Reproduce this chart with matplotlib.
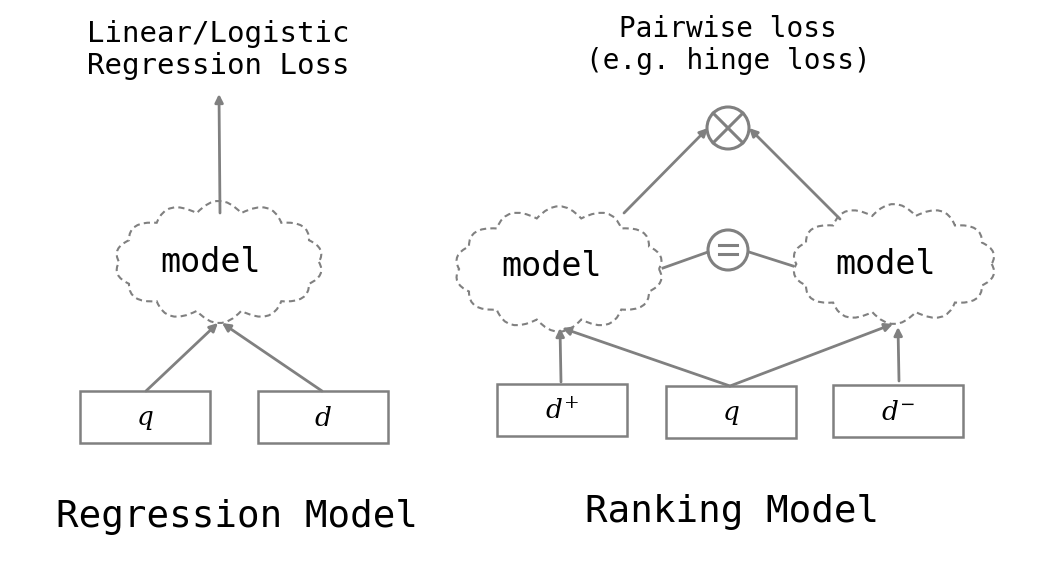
import numpy as np
import matplotlib.pyplot as plt
from matplotlib.path import Path
from matplotlib.patches import PathPatch, Rectangle, Circle

plt.rcParams["mathtext.fontset"] = "dejavuserif"
GRAY = "#808080"
MONO = "DejaVu Sans Mono"

# nodes
clouds = [("model", 219, 262, 222, 118), ("model", 559, 269, 222, 122), ("model", 894, 264, 217, 116)]
model_text = [(211, 262), (552, 267), (886, 264)]
boxes = [(r"$q$", 80, 391), (r"$d$", 258, 391), (r"$d^{+}$", 497, 384), (r"$q$", 666, 386), (r"$d^{-}$", 833, 385)]
BOX_W, BOX_H = 130, 52
arrows = [((146, 391), (218, 323)), ((322, 391), (222, 323)), ((220, 213), (219, 94)),
          ((561, 382), (560, 328)), ((730, 386), (562, 328)), ((730, 386), (893, 324)),
          ((899, 381), (898, 327)), ((624, 213), (708, 128)), ((840, 219), (749, 128))]
lines = [((663, 268), (708, 252)), ((749, 252), (793, 266))]


def cloud_path(cx, cy, w, h, n=14):
    t = np.linspace(0, 2 * np.pi, n + 1)
    pts = np.c_[cx + w / 2 * 0.9 * np.cos(t), cy + h / 2 * 0.85 * np.sin(t)]
    verts, codes = [pts[0]], [Path.MOVETO]
    for a, b in zip(pts[:-1], pts[1:]):
        m = (a + b) / 2
        d = np.array([(m[0] - cx) / (w / 2), (m[1] - cy) / (h / 2)])
        d /= np.linalg.norm(d)
        c = m + d * 0.55 * np.linalg.norm(b - a)
        verts += [c, b]
        codes += [Path.CURVE3, Path.CURVE3]
    return Path(verts, codes)


fig = plt.figure(figsize=(10.44, 5.63), dpi=100)
ax = fig.add_axes([0, 0, 1, 1])
ax.set_xlim(0, 1044)
ax.set_ylim(563, 0)
ax.axis("off")

for _, cx, cy, w, h in clouds:
    ax.add_patch(PathPatch(cloud_path(cx, cy, w, h), fill=False, ec=GRAY, lw=1.5, ls=(0, (3, 2))))
for (x, y), (label, *_ ) in zip(model_text, clouds):
    ax.text(x, y, label, family=MONO, fontsize=24, ha="center", va="center")

for label, x, y in boxes:
    ax.add_patch(Rectangle((x, y), BOX_W, BOX_H, fill=False, ec=GRAY, lw=1.8))
    ax.text(x + BOX_W / 2, y + BOX_H / 2 + 2, label, fontsize=19, ha="center", va="center")

for a, b in arrows:
    ax.annotate("", xy=b, xytext=a,
                arrowprops=dict(arrowstyle="-|>", mutation_scale=12, lw=2, color=GRAY, shrinkA=0, shrinkB=0))
for a, b in lines:
    ax.plot([a[0], b[0]], [a[1], b[1]], color=GRAY, lw=2)

ax.add_patch(Circle((728, 128), 21, fill=False, ec=GRAY, lw=2.2))
r = 21 / np.sqrt(2)
ax.plot([728 - r, 728 + r], [128 - r, 128 + r], color=GRAY, lw=2.2)
ax.plot([728 - r, 728 + r], [128 + r, 128 - r], color=GRAY, lw=2.2)
ax.add_patch(Circle((728, 250), 20, fill=False, ec=GRAY, lw=2.2))
ax.plot([719, 737], [245, 245], color=GRAY, lw=2.2)
ax.plot([719, 737], [254, 254], color=GRAY, lw=2.2)

ax.text(218, 50, "Linear/Logistic\nRegression Loss", family=MONO, fontsize=21,
        ha="center", va="center", linespacing=1.15)
ax.text(728, 45, "Pairwise loss\n(e.g. hinge loss)", family=MONO, fontsize=20,
        ha="center", va="center", linespacing=1.15)
ax.text(237, 517, "Regression Model", family=MONO, fontsize=27, ha="center", va="center")
ax.text(732, 512, "Ranking Model", family=MONO, fontsize=27, ha="center", va="center")

fig.savefig("out.png", dpi=100, facecolor="white")
